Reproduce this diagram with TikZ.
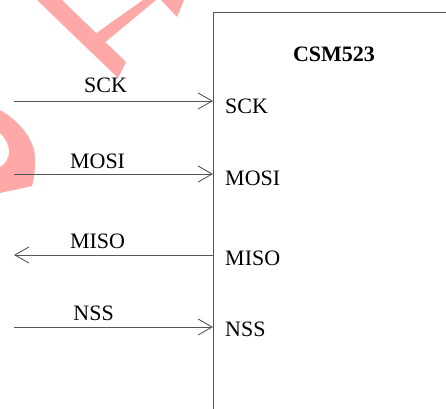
\documentclass[tikz,border=0pt]{standalone}
\usepackage{fontspec}
\setmainfont{Liberation Serif}
\usetikzlibrary{arrows.meta}
\definecolor{wmred}{RGB}{255,168,168}
\definecolor{wire}{RGB}{85,85,85}
\begin{document}
\begin{tikzpicture}[x=1pt,y=-1pt,>={Straight Barb[length=14pt,width=16pt]},
    sig/.style={draw=wire,line width=0.9pt},
    chipbox/.style={draw=wire,line width=0.9pt,inner sep=0pt},
    lbl/.style={anchor=base,yshift=7pt},
    pinlbl/.style={anchor=base west,inner sep=0pt},
    wmark/.style={fill=wmred,draw=none}]
    \useasboundingbox (0,0) rectangle (446,408);
    \clip (0,0) rectangle (446,408);
    \fontsize{22}{26}\selectfont
    % watermark strokes
    \fill[wmark] (37,0) -- (62,0) -- (126,62) -- (118,78) -- cycle;
    \fill[wmark] (95,34) -- (143,0) -- (156,0) -- (103,44) -- cycle;
    \fill[wmark] (161,0) -- (184,0) -- (177,17) -- cycle;
    \fill[wmark] (0,110) .. controls (18,120) and (36,140) .. (35,160)
        .. controls (35,172) and (34,180) .. (32,186) -- (0,193) -- (0,167)
        .. controls (12,160) and (12,144) .. (0,133) -- cycle;
    % chip
    \node[chipbox,minimum width=260pt,minimum height=420pt,anchor=north west] (chip) at (213,12) {};
    \node[font=\bfseries,anchor=base] (title) at (334,61) {CSM523};
    \coordinate (p-sck)  at (213,101);
    \coordinate (p-mosi) at (213,174);
    \coordinate (p-miso) at (213,255);
    \coordinate (p-nss)  at (213,327);
    \coordinate (m-sck)  at (14,101);
    \coordinate (m-mosi) at (14,174);
    \coordinate (m-miso) at (14,255);
    \coordinate (m-nss)  at (14,327);
    \begin{scope}
        \draw[sig,->] (m-sck) -- node[lbl,pos=.46,yshift=2pt] (t-sck) {SCK} (p-sck);
        \draw[sig,->] (m-mosi) -- node[lbl,pos=.42,yshift=-1pt] (t-mosi) {MOSI} (p-mosi);
        \draw[sig,->] (p-miso) -- node[lbl,pos=.58] (t-miso) {MISO} (m-miso);
        \draw[sig,->] (m-nss) -- node[lbl,pos=.40] (t-nss) {NSS} (p-nss);
    \end{scope}
    \node[pinlbl] (l-sck)  at ([shift={(12,12)}]p-sck)  {SCK};
    \node[pinlbl] (l-mosi) at ([shift={(12,11)}]p-mosi) {MOSI};
    \node[pinlbl] (l-miso) at ([shift={(12,10)}]p-miso) {MISO};
    \node[pinlbl] (l-nss)  at ([shift={(12,9)}]p-nss)   {NSS};
\end{tikzpicture}
\end{document}
